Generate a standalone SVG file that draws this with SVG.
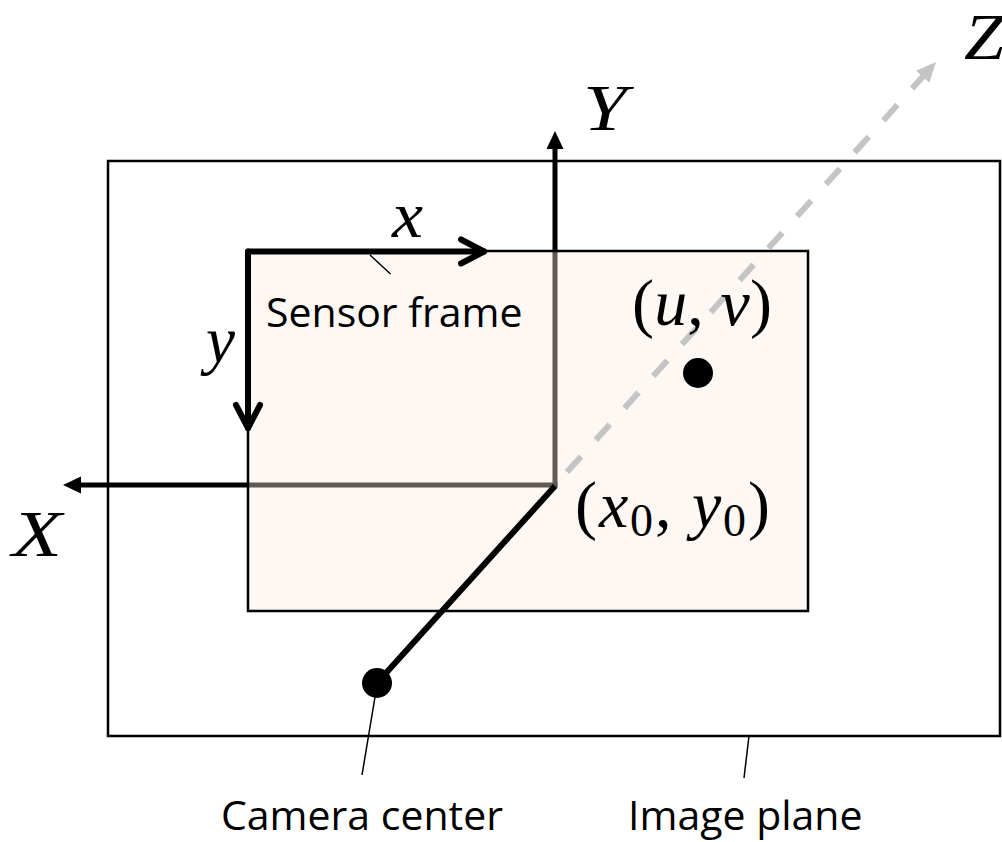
<svg xmlns="http://www.w3.org/2000/svg" width="1002" height="842" viewBox="0 0 1002 842">
  <defs>
    <style>
      .frame { stroke: #000; stroke-width: 2.5; }
      .axis { stroke: #000; stroke-width: 5; fill: none; }
      .sensor-axis { stroke: #000; stroke-width: 6; fill: none; stroke-linecap: round; }
      .optical { stroke: #c4c4c4; stroke-width: 6; fill: none; stroke-dasharray: 21 22; }
      .leader { stroke: #000; stroke-width: 1.5; fill: none; }
      .math { font-family: "Liberation Serif", "Times New Roman", serif; font-size: 66px; fill: #000; }
      .it { font-style: italic; }
      .sub { font-size: 46px; }
      .caption { font-family: "Open Sans", "Liberation Sans", sans-serif; font-size: 41px; fill: #000; }
    </style>
    <!-- filled triangle head for the camera axes -->
    <marker id="solid" markerUnits="userSpaceOnUse" viewBox="0 -9 18 18" markerWidth="18" markerHeight="18" refX="1" refY="0" orient="auto">
      <path d="M0,-8.5 L18,0 L0,8.5 Z" fill="#000"/>
    </marker>
    <!-- grey head for the optical axis -->
    <marker id="solid-grey" markerUnits="userSpaceOnUse" viewBox="0 -10 20 20" markerWidth="20" markerHeight="20" refX="1" refY="0" orient="auto">
      <path d="M0,-9 L20,0 L0,9 Z" fill="#c4c4c4"/>
    </marker>
    <!-- open chevron head for the sensor axes -->
    <marker id="open" markerUnits="userSpaceOnUse" viewBox="-28 -16 32 32" markerWidth="32" markerHeight="32" refX="0" refY="0" orient="auto">
      <path d="M-23,-12 L0,0 L-23,12" fill="none" stroke="#000" stroke-width="6" stroke-linecap="round" stroke-linejoin="round"/>
    </marker>
  </defs>

  <rect width="1002" height="842" fill="#fff"/>

  <!-- image plane -->
  <g id="image-plane">
    <rect class="frame" x="108" y="161" width="892" height="575" fill="#fff"/>
  </g>

  <!-- camera X / Y axes (drawn beneath the sensor so they tint through it) -->
  <g id="camera-axes">
    <line class="axis" x1="555" y1="487.5" x2="555" y2="148" marker-end="url(#solid)"/>
    <line class="axis" x1="557.5" y1="485" x2="80" y2="485" marker-end="url(#solid)"/>
  </g>

  <!-- sensor frame -->
  <g id="sensor">
    <rect class="frame" x="248" y="251" width="560" height="360" fill="rgb(250,237,224)" fill-opacity="0.38"/>
  </g>

  <g id="connectors">
    <!-- optical axis Z -->
    <line class="optical" x1="567" y1="472" x2="923.3" y2="76.1" marker-end="url(#solid-grey)"/>
    <!-- sensor axes x / y -->
    <line class="sensor-axis" x1="248" y1="251.5" x2="484" y2="251.5" marker-end="url(#open)"/>
    <line class="sensor-axis" x1="248" y1="251.5" x2="248" y2="428" marker-end="url(#open)"/>
    <!-- principal point to camera center -->
    <line class="axis" style="stroke-width:6" x1="555" y1="486" x2="377" y2="683"/>
    <!-- leader lines -->
    <line class="leader" x1="370" y1="255" x2="390.5" y2="274"/>
    <line class="leader" x1="375" y1="697" x2="362" y2="775"/>
    <line class="leader" x1="749" y1="736" x2="744" y2="778"/>
  </g>

  <g id="camera-center">
    <circle cx="377" cy="683" r="15" fill="#000"/>
  </g>

  <g id="point-uv">
    <circle cx="698" cy="373" r="15" fill="#000"/>
  </g>

  <g id="labels">
    <text class="math it" x="12" y="556" textLength="50" lengthAdjust="spacingAndGlyphs">X</text>
    <text class="math it" x="583" y="130" textLength="44" lengthAdjust="spacingAndGlyphs">Y</text>
    <text class="math it" x="964" y="59" textLength="40" lengthAdjust="spacingAndGlyphs">Z</text>
    <text class="math it" x="392" y="237" textLength="31" lengthAdjust="spacingAndGlyphs">x</text>
    <text class="math it" x="206" y="362" textLength="29" lengthAdjust="spacingAndGlyphs">y</text>
    <text class="math" x="632" y="325" textLength="140">(<tspan class="it">u</tspan>, <tspan class="it">v</tspan>)</text>
    <text class="math" x="575" y="527" textLength="195">(<tspan class="it">x</tspan><tspan class="sub" dy="9">0</tspan><tspan dy="-9">, </tspan><tspan class="it">y</tspan><tspan class="sub" dy="9">0</tspan><tspan dy="-9">)</tspan></text>
    <text class="caption" x="266" y="327">Sensor frame</text>
    <text class="caption" x="221" y="830">Camera center</text>
    <text class="caption" x="628" y="830">Image plane</text>
  </g>
</svg>
